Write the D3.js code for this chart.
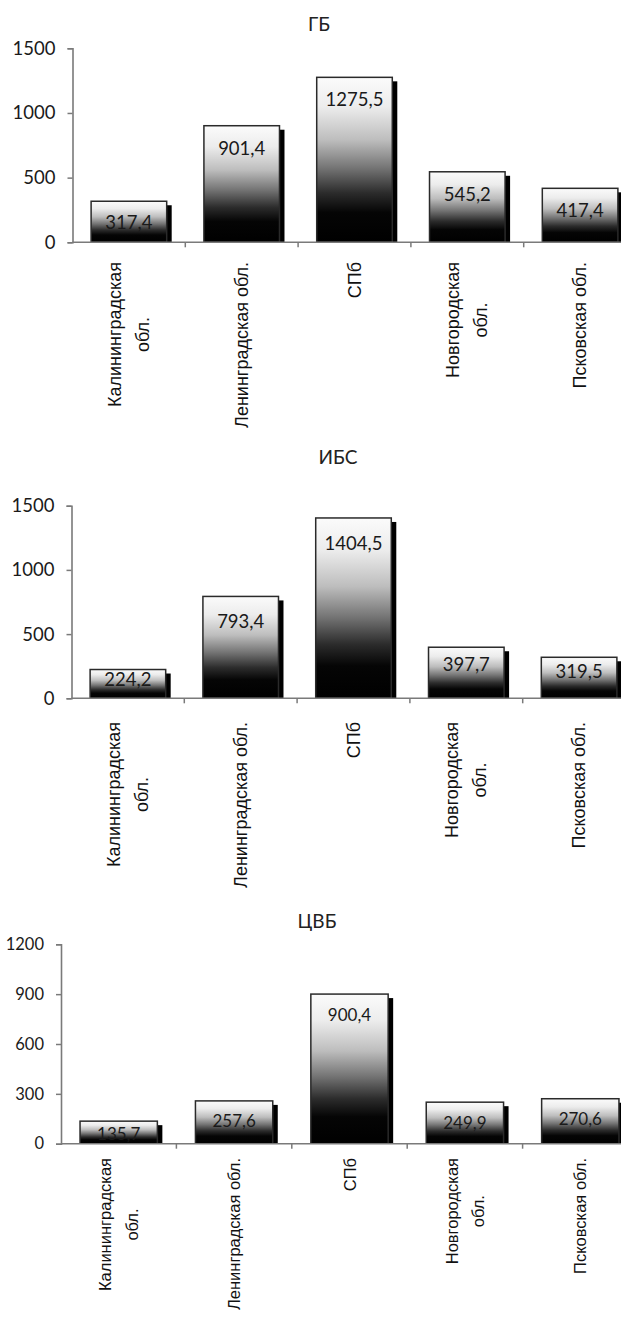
<!DOCTYPE html>
<html><head><meta charset="utf-8">
<script src="https://cdn.jsdelivr.net/npm/d3@7"></script>
<style>body{margin:0;background:#fff} svg{display:block}</style>
</head><body><svg id="c" width="621" height="1335"></svg>
<script>
// ---- data ----
const categories = ["Калининградская\nобл.", "Ленинградская обл.", "СПб", "Новгородская\nобл.", "Псковская обл."];
const titles = ["ГБ", "ИБС", "ЦВБ"];
const valuesGB  = [317.4, 901.4, 1275.5, 545.2, 417.4];
const valuesIBS = [224.2, 793.4, 1404.5, 397.7, 319.5];
const valuesCVB = [135.7, 257.6, 900.4, 249.9, 270.6];
const ticksGB  = [0, 500, 1000, 1500];
const ticksIBS = [0, 500, 1000, 1500];
const ticksCVB = [0, 300, 600, 900, 1200];

// ---- layout ----
const panels = [
  {title: titles[0], values: valuesGB,  ticks: ticksGB,  max: 1500, x0: 72.5, x1: 636.5, yBase: 242.3, yTop: 48.3,
   titleX: 319, titleY: 23, tickFont: 18.5, valFont: 18.5, valOff: 22, valFrac: 0.5, catFont: 18, lineGap: 28, labelTop: 262},
  {title: titles[1], values: valuesIBS, ticks: ticksIBS, max: 1500, x0: 71.5, x1: 635.5, yBase: 698.3, yTop: 505.7,
   titleX: 338, titleY: 456, tickFont: 18.5, valFont: 18.5, valOff: 25, valFrac: 0.33, catFont: 18, lineGap: 28, labelTop: 722},
  {title: titles[2], values: valuesCVB, ticks: ticksCVB, max: 1200, x0: 61, x1: 638, yBase: 1143.7, yTop: 944.3,
   titleX: 317, titleY: 920, tickFont: 16.5, valFont: 17, valOff: 20, valFrac: 0.55, catFont: 16.5, lineGap: 26.7, labelTop: 1158}
];

const svg = d3.select("#c");
const defs = svg.append("defs");
const grad = defs.append("linearGradient").attr("id", "barGrad")
  .attr("x1", 0).attr("y1", 0).attr("x2", 0).attr("y2", 1);
[[0, "#fbfbfb"], [0.18, "#ececec"], [0.38, "#bdbdbd"], [0.55, "#747474"], [0.7, "#2c2c2c"], [0.82, "#050505"], [1, "#000"]]
  .forEach(([o, c]) => grad.append("stop").attr("offset", o).attr("stop-color", c));

const numFmt = v => String(v.toFixed(1)).replace(".", ",");
const valFontFam = "Lato, 'Open Sans', sans-serif";
const catFontFam = "'Liberation Sans', Arial, sans-serif";

panels.forEach((p, i) => {
  const g = svg.append("g");
  const x = d3.scaleBand().domain(categories).range([p.x0, p.x1]).paddingInner(0.33).paddingOuter(0.165);
  const y = d3.scaleLinear().domain([0, p.max]).range([p.yBase, p.yTop]);

  const clipId = "clip" + i;
  defs.append("clipPath").attr("id", clipId).append("rect")
    .attr("x", p.x0).attr("y", p.yTop - 30).attr("width", 700).attr("height", p.yBase - p.yTop + 30);

  // title
  g.append("text").attr("x", p.titleX).attr("y", p.titleY)
    .attr("text-anchor", "middle").attr("dominant-baseline", "central")
    .attr("font-family", valFontFam).attr("font-size", 19).attr("fill", "#222").text(p.title);

  const plot = g.append("g").attr("clip-path", `url(#${clipId})`);
  const data = categories.map((c, k) => ({c, v: p.values[k]}));

  // shadows
  plot.selectAll(".sh").data(data).join("rect")
    .attr("x", d => x(d.c) + 5).attr("y", d => y(d.v) + 4)
    .attr("width", x.bandwidth()).attr("height", d => p.yBase - y(d.v) - 4)
    .attr("fill", "#000");
  // bars
  plot.selectAll(".bar").data(data).join("rect")
    .attr("x", d => x(d.c)).attr("y", d => y(d.v))
    .attr("width", x.bandwidth()).attr("height", d => p.yBase - y(d.v))
    .attr("fill", "url(#barGrad)").attr("stroke", "#2a2a2a").attr("stroke-width", 1.5);
  // value labels
  plot.selectAll(".val").data(data).join("text")
    .attr("x", d => x(d.c) + x.bandwidth() / 2)
    .attr("y", d => y(d.v) + Math.min(p.valOff, p.valFrac * (p.yBase - y(d.v))))
    .attr("text-anchor", "middle").attr("dominant-baseline", "central")
    .attr("font-family", valFontFam).attr("font-size", p.valFont).attr("fill", "#1a1a1a")
    .text(d => numFmt(d.v));

  // y axis
  const yAxis = d3.axisLeft(y).tickValues(p.ticks).tickSize(5).tickPadding(12).tickFormat(d3.format("d"));
  const ya = g.append("g").attr("transform", `translate(${p.x0},0)`).call(yAxis);
  ya.select(".domain").attr("stroke", "#7a7a7a").attr("stroke-width", 1.6);
  ya.selectAll(".tick line").attr("stroke", "#7a7a7a").attr("stroke-width", 1.5);
  ya.selectAll(".tick text").attr("font-family", valFontFam).attr("font-size", p.tickFont).attr("fill", "#1a1a1a");

  // x axis (line + ticks at band boundaries)
  g.append("line").attr("x1", p.x0).attr("x2", 621).attr("y1", p.yBase).attr("y2", p.yBase)
    .attr("stroke", "#7a7a7a").attr("stroke-width", 1.6);
  const bounds = categories.slice(1).map(c => x(c) - x.step() * x.paddingInner() / 2);
  g.selectAll(".xt").data(bounds).join("line")
    .attr("x1", d => d).attr("x2", d => d).attr("y1", p.yBase).attr("y2", p.yBase + 5)
    .attr("stroke", "#7a7a7a").attr("stroke-width", 1.5);

  // category labels (rotated, multi-line centered, block aligned at top)
  categories.forEach(c => {
    const lines = c.split("\n");
    const cx = x(c) + x.bandwidth() / 2;
    const lg = g.append("g");
    const texts = lines.map(ln => lg.append("text")
      .attr("font-family", catFontFam).attr("font-size", p.catFont).attr("fill", "#111")
      .attr("text-anchor", "middle").attr("dominant-baseline", "central").text(ln));
    const maxLen = d3.max(texts, t => t.node().getComputedTextLength());
    const n = lines.length;
    texts.forEach((t, li) => {
      const px = cx + (li - (n - 1) / 2) * p.lineGap;
      const py = p.labelTop + maxLen / 2;
      t.attr("transform", `translate(${px},${py}) rotate(-90)`);
    });
  });
});
</script>
</body></html>
